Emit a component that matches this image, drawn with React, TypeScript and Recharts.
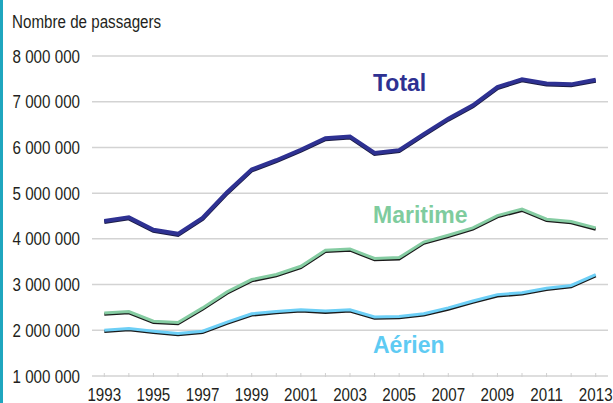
import React from "react";
import { LineChart, Line, XAxis, YAxis, CartesianGrid } from "recharts";

const years = [1993,1994,1995,1996,1997,1998,1999,2000,2001,2002,2003,2004,2005,2006,2007,2008,2009,2010,2011,2012,2013];
const total = [4.39,4.47,4.20,4.11,4.46,5.02,5.52,5.72,5.95,6.20,6.24,5.88,5.94,6.29,6.63,6.92,7.32,7.49,7.40,7.38,7.48];
const maritime = [2.38,2.41,2.20,2.17,2.49,2.84,3.11,3.22,3.40,3.75,3.78,3.57,3.59,3.93,4.08,4.24,4.51,4.65,4.43,4.38,4.24];
const aerien = [2.00,2.04,1.98,1.93,1.98,2.18,2.36,2.41,2.45,2.42,2.45,2.29,2.30,2.36,2.49,2.64,2.78,2.82,2.92,2.98,3.22];
const yTicks = [1000000,2000000,3000000,4000000,5000000,6000000,7000000,8000000];

const data = years.map((y, i) => ({
  year: y,
  total: Math.round(total[i] * 1e6),
  maritime: Math.round(maritime[i] * 1e6),
  aerien: Math.round(aerien[i] * 1e6),
}));

const FONT = "'Liberation Sans', Arial, sans-serif";
const NARROW = 0.82;
const TXT = "#231f20";

const fmt = (v: number) => String(v).replace(/\B(?=(\d{3})+(?!\d))/g, " ");

const Narrow = ({ x, y, anchor, children, size = 18.5 }: any) => (
  <text
    transform={`translate(${x},${y}) scale(${NARROW},1)`}
    textAnchor={anchor}
    fontFamily={FONT}
    fontSize={size}
    fill={TXT}
  >
    {children}
  </text>
);

const XTick = (props: any) => {
  const { x, y, payload } = props;
  const yr = payload.value;
  return (
    <g>
      <line x1={x} x2={x} y1={y - 3} y2={y + 1} stroke="#cfcfcf" strokeWidth={1} />
      {yr % 2 === 1 ? <Narrow x={x} y={y + 25} anchor="middle">{yr}</Narrow> : null}
    </g>
  );
};

const YTick = (props: any) => {
  const { x, y, payload } = props;
  return <Narrow x={x} y={y + 6.5} anchor="end">{fmt(payload.value)}</Narrow>;
};

export default function App() {
  return (
    <div style={{ position: "absolute", left: 0, top: 0, width: 613, height: 403, background: "#fff", overflow: "hidden" }}>
      <div style={{ position: "absolute", left: 0, top: 0, width: 3, height: 403, background: "#1fa6bf" }} />
      <LineChart width={613} height={403} data={data} margin={{ top: 56, right: 5, bottom: 0, left: 0 }}>
        <CartesianGrid vertical={false} stroke="#d3d3d3" strokeWidth={1.5} />
        <XAxis
          dataKey="year"
          type="number"
          domain={[1992.5, 2013.5]}
          ticks={years}
          interval={0}
          axisLine={false}
          tickLine={false}
          tickSize={0}
          tickMargin={0}
          height={27}
          tick={<XTick />}
        />
        <YAxis
          type="number"
          domain={[1000000, 8000000]}
          ticks={yTicks}
          interval={0}
          width={92}
          axisLine={false}
          tickLine={false}
          tickSize={0}
          tickMargin={12}
          tick={<YTick />}
        />
        <Line dataKey="aerien" stroke="#1a1a1a" strokeWidth={3} dot={false} isAnimationActive={false} transform="translate(0,1.3)" />
        <Line dataKey="aerien" stroke="#6dcff6" strokeWidth={3} dot={false} isAnimationActive={false} />
        <Line dataKey="maritime" stroke="#1a1a1a" strokeWidth={3} dot={false} isAnimationActive={false} transform="translate(0,1.3)" />
        <Line dataKey="maritime" stroke="#85cca2" strokeWidth={3} dot={false} isAnimationActive={false} />
        <Line dataKey="total" stroke="#1c1c45" strokeWidth={4} dot={false} isAnimationActive={false} transform="translate(0,1)" />
        <Line dataKey="total" stroke="#2e3192" strokeWidth={4} dot={false} isAnimationActive={false} />
      </LineChart>
      <svg width={613} height={403} style={{ position: "absolute", left: 0, top: 0, pointerEvents: "none" }}>
        <Narrow x={12} y={28} anchor="start">Nombre de passagers</Narrow>
        <text x={373} y={91} fontFamily={FONT} fontWeight="bold" fontSize={23} fill="#2e3192">Total</text>
        <text x={373} y={223} fontFamily={FONT} fontWeight="bold" fontSize={23} fill="#7fcc9e">Maritime</text>
        <text x={373} y={353} fontFamily={FONT} fontWeight="bold" fontSize={23} fill="#5ecbf3">Aérien</text>
      </svg>
    </div>
  );
}
